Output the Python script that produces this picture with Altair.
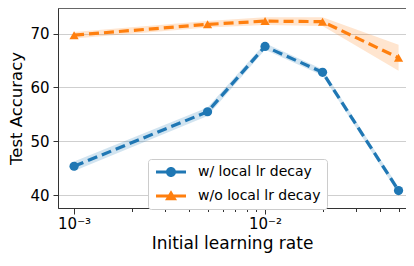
import altair as alt
import pandas as pd

lr = [0.001, 0.005, 0.01, 0.02, 0.05]
series = ["w/ local lr decay", "w/o local lr decay"]
acc_with = [45.4, 55.5, 67.6, 62.8, 40.9]
std_with = [0.9, 0.8, 0.6, 0.6, 0.6]
acc_without = [69.7, 71.7, 72.3, 72.2, 65.5]
std_without = [0.6, 0.6, 0.7, 0.8, 2.4]
y_ticks = [40, 50, 60, 70]
x_ticks = [0.001, 0.002, 0.003, 0.004, 0.005, 0.006, 0.007, 0.008, 0.009,
           0.01, 0.02, 0.03, 0.04, 0.05]

colors = ["#1f77b4", "#ff7f0e"]

rows = []
for s, accs, stds in [(series[0], acc_with, std_with), (series[1], acc_without, std_without)]:
    for x, a, sd in zip(lr, accs, stds):
        rows.append({"lr": x, "acc": a, "lo": a - sd, "hi": a + sd, "series": s})
df = pd.DataFrame(rows)

xscale = alt.Scale(type="log", domain=[0.000824, 0.0547], nice=False)
yscale = alt.Scale(domain=[37.66, 74.73], nice=False, zero=False)

x_enc = alt.X("lr:Q", scale=xscale, title="Initial learning rate",
              axis=alt.Axis(values=x_ticks, grid=False,
                            labelExpr="datum.value == 0.001 ? '10⁻³' : (datum.value == 0.01 ? '10⁻²' : '')",
                            tickSize={"condition": {"test": "datum.value == 0.001 || datum.value == 0.01", "value": 6}, "value": 3.5},
                            labelFontSize=15, titleFontSize=17, labelPadding=2, titlePadding=4,
                            labelFlush=False, labelOverlap=False))
y_enc = alt.Y("acc:Q", scale=yscale, title="Test Accuracy",
              axis=alt.Axis(values=y_ticks, grid=True, gridColor="#cfcfcf", tickSize=5,
                            labelFontSize=15, titleFontSize=16.5, labelPadding=4, titlePadding=5))

color_plain = alt.Color("series:N", scale=alt.Scale(domain=series, range=colors), legend=None)

base = alt.Chart(df)

band = base.mark_area(opacity=0.2).encode(
    x=x_enc, y=alt.Y("lo:Q", scale=yscale), y2="hi:Q", color=color_plain
)
line = base.mark_line(strokeWidth=3.2, strokeDash=[10, 5]).encode(
    x=x_enc, y=y_enc, color=color_plain
)
points = base.mark_point(filled=True, opacity=1).encode(
    x=x_enc, y=y_enc, color=color_plain,
    shape=alt.Shape("series:N", scale=alt.Scale(domain=series, range=["circle", "triangle-up"]), legend=None),
    size=alt.value(85),
)

legend_paths = [
    "M-3,-0.3H3V0.3H-3Z M1,0A1,1 0 1 1 -1,0A1,1 0 1 1 1,0Z",
    "M-3,-0.3H3V0.3H-3Z M0,-1.15L1.2,0.85L-1.2,0.85Z",
]
leg = alt.Legend(title=None, orient="none", legendX=90, legendY=151,
                 labelFontSize=14, symbolSize=100, symbolStrokeWidth=0,
                 symbolOffset=10, labelOffset=20, rowPadding=10, padding=6,
                 strokeColor="#cccccc", fillColor="white", cornerRadius=3,
                 symbolOpacity=1, labelColor="black")
legend_layer = base.mark_point(filled=True, opacity=1).encode(
    x=x_enc, y=y_enc,
    color=alt.Color("series:N", scale=alt.Scale(domain=series, range=colors), legend=leg),
    shape=alt.Shape("series:N", scale=alt.Scale(domain=series, range=legend_paths), legend=leg),
).transform_filter("false")

chart = alt.layer(band, line, points, legend_layer).resolve_scale(
    color="independent", shape="independent"
).properties(
    width=348, height=200,
    autosize=alt.AutoSizeParams(type="none"),
    padding={"left": 50, "top": 0, "right": 0, "bottom": 46},
).configure_view(stroke="#666", strokeWidth=1).configure_axis(
    labelFont="DejaVu Sans", titleFont="DejaVu Sans", labelColor="black", titleColor="black",
    titleFontWeight="normal", domainColor="#333", tickColor="#333"
).configure_legend(labelFont="DejaVu Sans")

chart.save("out.html", embed_options={"renderer": "svg", "actions": False})
